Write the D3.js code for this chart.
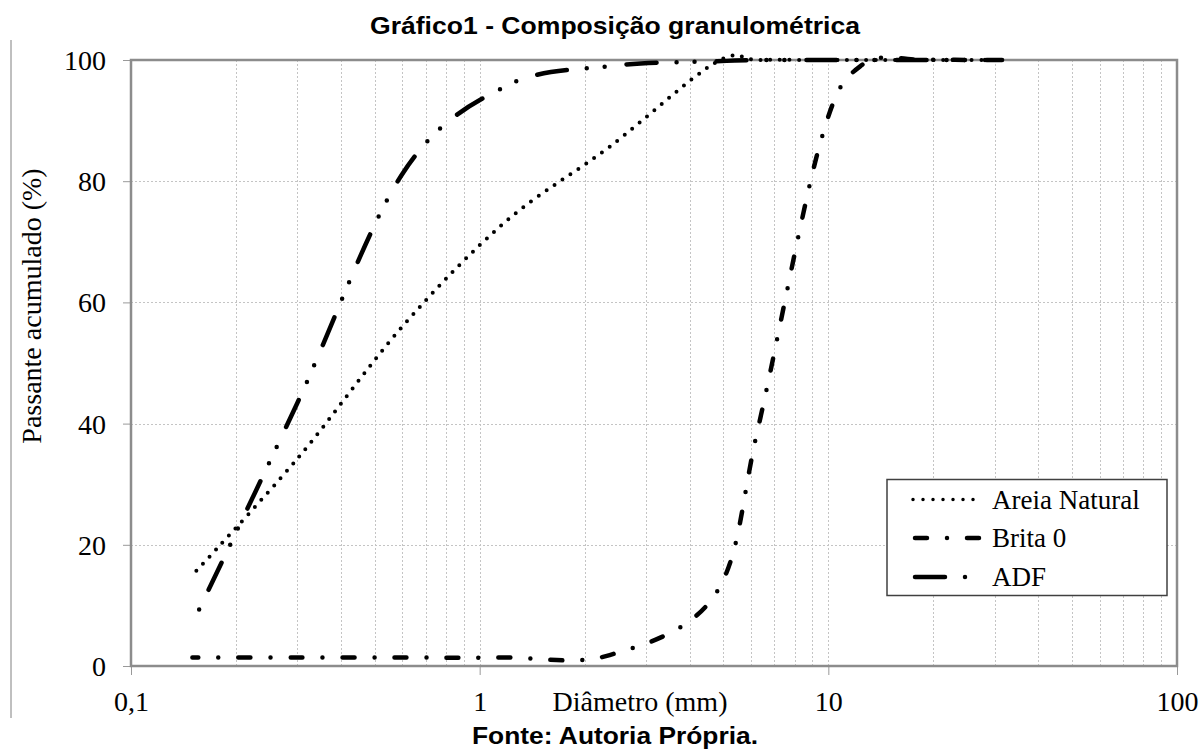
<!DOCTYPE html>
<html>
<head>
<meta charset="utf-8">
<script src="https://cdn.jsdelivr.net/npm/d3@7"></script>
<style>
  body { margin: 0; background: #fff; }
  svg { display: block; }
</style>
</head>
<body>
<svg id="chart" width="1203" height="749"></svg>
<script>
// sieve openings (mm) and cumulative passing (%)
const sieves = [0.15, 0.3, 0.6, 1.18, 2.36, 4.75, 6.3, 9.5, 12.5, 19, 25, 31.5];
const areiaNatural = [15, 34.2, 56, 73.2, 85.7, 99.6, 100, 100, 100, 100, 100, 100];
const brita0 = [1.4, 1.4, 1.4, 1.4, 1.8, 11.9, 39.5, 86.5, 99.2, 100, 100, 100];
const adf = [7, 43.4, 81.2, 95.6, 99.0, 99.8, 100, 100, 100, 100, 100, 100];

const seriesNames = ["Areia Natural", "Brita 0", "ADF"];
const xTicks = [0.1, 1, 10, 100];
const yTicks = [0, 20, 40, 60, 80, 100];

const svg = d3.select("#chart");
const serif = "'Liberation Serif', 'Times New Roman', serif";
const sans = "'Liberation Sans', Arial, sans-serif";

const x = d3.scaleLog().domain([0.1, 100]).range([131, 1177]);
const y = d3.scaleLinear().domain([0, 100]).range([666, 60]);

// thin rule on the far left
svg.append("line")
  .attr("x1", 11).attr("x2", 11)
  .attr("y1", 40).attr("y2", 718)
  .attr("stroke", "#808080")
  .attr("stroke-width", 1);

// minor / major grid
const gridX = [];
[0.1, 1, 10].forEach(dec => {
  for (let m = 1; m <= 9; m++) {
    const v = dec * m;
    if (v > 0.1 && v < 100) gridX.push(v);
  }
});

const grid = svg.append("g")
  .attr("stroke", "#c4c4c4")
  .attr("stroke-width", 1)
  .attr("stroke-dasharray", "2 2");

grid.selectAll("line.gx")
  .data(gridX)
  .enter()
  .append("line")
  .attr("class", "gx")
  .attr("x1", d => Math.round(x(d)) + 0.5)
  .attr("x2", d => Math.round(x(d)) + 0.5)
  .attr("y1", y(100))
  .attr("y2", y(0));

grid.selectAll("line.gy")
  .data(yTicks.filter(d => d > 0 && d < 100))
  .enter()
  .append("line")
  .attr("class", "gy")
  .attr("x1", x(0.1))
  .attr("x2", x(100))
  .attr("y1", d => Math.round(y(d)) + 0.5)
  .attr("y2", d => Math.round(y(d)) + 0.5);

// axes
const yAxis = svg.append("g")
  .attr("transform", `translate(${x(0.1)},0)`)
  .call(d3.axisLeft(y).tickValues(yTicks).tickSize(8).tickPadding(17));
const xAxis = svg.append("g")
  .attr("transform", `translate(0,${y(0)})`)
  .call(d3.axisBottom(x).tickValues(xTicks).tickSize(9).tickPadding(17)
    .tickFormat(d => String(d).replace(".", ",")));

[yAxis, xAxis].forEach(a => {
  a.select(".domain").remove();
  a.selectAll(".tick line").attr("stroke", "#999");
  a.selectAll(".tick text")
    .attr("fill", "#000")
    .style("font-family", serif)
    .style("font-size", "28px");
});
yAxis.selectAll(".tick text").attr("dy", "0.34em");
xAxis.selectAll(".tick text").attr("dy", "0.68em");

// plot frame
svg.append("rect")
  .attr("x", x(0.1))
  .attr("y", y(100))
  .attr("width", x(100) - x(0.1))
  .attr("height", y(0) - y(100))
  .attr("fill", "none")
  .attr("stroke", "#8c8c8c")
  .attr("stroke-width", 2.5);

// series
const styles = [
  { width: 4, dash: "0 9.6", offset: 3.6 },
  { width: 4.5, dash: "12 20 0 20", offset: 6 },
  { width: 4.5, dash: "30 20 0 18 0 22", offset: 52.4 }
];
const seriesData = [areiaNatural, brita0, adf];

const line = d3.line()
  .x(d => x(d[0]))
  .y(d => y(d[1]))
  .curve(d3.curveCardinal.tension(0));

seriesData.forEach((vals, i) => {
  svg.append("path")
    .datum(sieves.map((s, j) => [s, vals[j]]))
    .attr("d", line)
    .attr("fill", "none")
    .attr("stroke", "#000")
    .attr("stroke-width", styles[i].width)
    .attr("stroke-linecap", "round")
    .attr("stroke-dasharray", styles[i].dash)
    .attr("stroke-dashoffset", styles[i].offset);
});

// legend
const legend = svg.append("g");
legend.append("rect")
  .attr("x", 887)
  .attr("y", 479.5)
  .attr("width", 280)
  .attr("height", 116)
  .attr("fill", "#fff")
  .attr("stroke", "#404040")
  .attr("stroke-width", 1.5);

const legendRows = [499.5, 538, 577];
const legendDash = [
  { dash: "0 10", width: 3.5, x1: 913, x2: 975 },
  { dash: "12 20 0 20", width: 4.5, x1: 915, x2: 980 },
  { dash: "30 20 0 18 0 22", width: 4.5, x1: 915, x2: 980 }
];

seriesNames.forEach((name, i) => {
  legend.append("line")
    .attr("x1", legendDash[i].x1)
    .attr("x2", legendDash[i].x2)
    .attr("y1", legendRows[i])
    .attr("y2", legendRows[i])
    .attr("stroke", "#000")
    .attr("stroke-width", legendDash[i].width)
    .attr("stroke-linecap", "round")
    .attr("stroke-dasharray", legendDash[i].dash);
  legend.append("text")
    .attr("x", 992)
    .attr("y", legendRows[i] + 9)
    .style("font-family", serif)
    .style("font-size", "27px")
    .text(name);
});

// titles
svg.append("text")
  .attr("x", 370)
  .attr("y", 34)
  .attr("textLength", 490)
  .attr("lengthAdjust", "spacingAndGlyphs")
  .style("font-family", sans)
  .style("font-weight", "bold")
  .style("font-size", "24px")
  .text("Gráfico1 - Composição granulométrica");

svg.append("text")
  .attr("x", 640)
  .attr("y", 711)
  .attr("text-anchor", "middle")
  .style("font-family", serif)
  .style("font-size", "28px")
  .text("Diâmetro (mm)");

svg.append("text")
  .attr("transform", "translate(41,306) rotate(-90)")
  .attr("text-anchor", "middle")
  .style("font-family", serif)
  .style("font-size", "28px")
  .text("Passante acumulado (%)");

svg.append("text")
  .attr("x", 472)
  .attr("y", 744)
  .attr("textLength", 286)
  .attr("lengthAdjust", "spacingAndGlyphs")
  .style("font-family", sans)
  .style("font-weight", "bold")
  .style("font-size", "24px")
  .text("Fonte: Autoria Própria.");
</script>
</body>
</html>
